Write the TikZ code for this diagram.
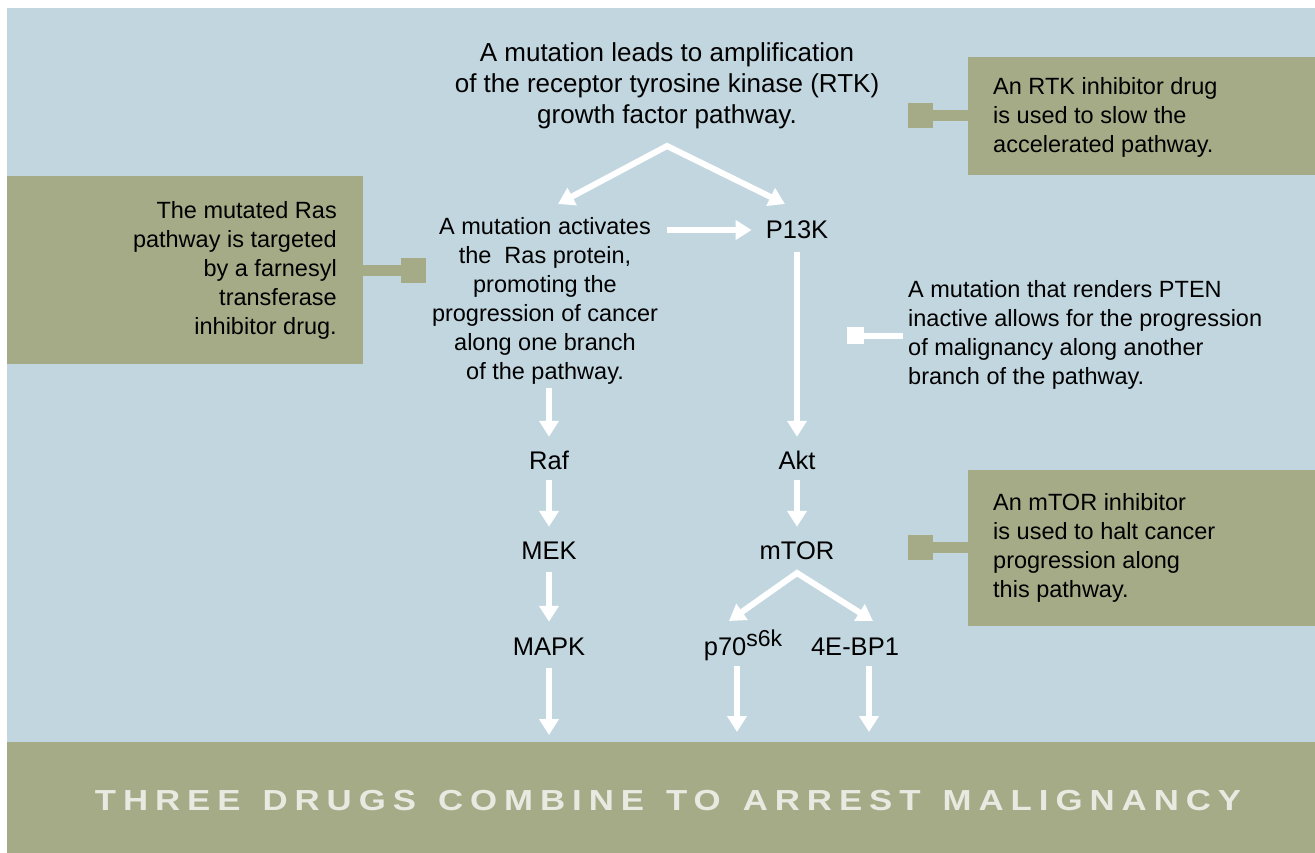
\documentclass[tikz,border=0pt]{standalone}
\usepackage{fontspec}
\setmainfont{Liberation Sans}
\newfontfamily\bannerfont{Liberation Sans}[FakeStretch=1.2,LetterSpace=24]
\usetikzlibrary{arrows.meta}
\definecolor{bgblue}{HTML}{C2D6DF}
\definecolor{olive}{HTML}{A6AB87}
\definecolor{bannertxt}{HTML}{E8E9E1}
\begin{document}
\begin{tikzpicture}[x=1pt,y=-1pt,
  txt/.style={inner sep=0pt, font=\fontsize{23.5}{29}\selectfont, text=black},
  lbl/.style={inner sep=0pt, font=\fontsize{25.5}{29}\selectfont, text=black, text height=18pt, text depth=5pt},
  arr/.style={draw=white, line width=6pt, -{Triangle[width=19pt,length=16pt]}},
  arrtwo/.style={draw=white, line width=6pt, line join=miter, {Triangle[width=19pt,length=16pt]}-{Triangle[width=19pt,length=16pt]}},
  link/.style={draw=olive, line width=11pt},
  plug/.style={fill=olive, minimum size=25pt, inner sep=0pt},
  drugbox/.style={fill=olive, inner sep=0pt, anchor=north west}]
\useasboundingbox (0,0) rectangle (1315,853);
\fill[white] (0,0) rectangle (1315,853);
\fill[bgblue] (7,8) rectangle (1315,853);
% banner
\node[fill=olive, minimum width=1308pt, minimum height=111pt, anchor=north west, inner sep=0pt] (banner) at (7,742) {};
\node[inner sep=0pt, text=bannertxt, font=\bannerfont\bfseries\fontsize{29}{30}\selectfont] (bannertext) at (668,801)
  {THREE\hspace{22pt}DRUGS\hspace{22pt}COMBINE\hspace{22pt}TO\hspace{22pt}ARREST\hspace{22pt}MALIGNANCY};
% drug boxes
\node[drugbox, minimum width=347pt, minimum height=118pt] (rtkbox) at (968,57) {};
\node[drugbox, minimum width=356pt, minimum height=188pt] (rasbox) at (7,176) {};
\node[drugbox, minimum width=347pt, minimum height=156pt] (mtorbox) at (968,470) {};
\node[plug] (rtkplug) at (920.5,115.5) {};
\node[plug] (rasplug) at (413.5,270.5) {};
\node[plug] (mtorplug) at (920.5,547.5) {};
\draw[link] (rtkplug.east) -- (rtkbox.west |- rtkplug);
\draw[link] (rasplug.west) -- (rasbox.east |- rasplug);
\draw[link] (mtorplug.east) -- (mtorbox.west |- mtorplug);
% texts
\node[txt, align=center, font=\fontsize{26}{31}\selectfont] (top) at (667,86)
  {A mutation leads to amplification\\of the receptor tyrosine kinase (RTK)\\growth factor pathway.};
\node[txt, align=center] (ras) at (545,301)
  {A mutation activates\\the\ \ Ras protein,\\promoting the\\progression of cancer\\along one branch\\of the pathway.};
\node[txt, align=left, anchor=west] (rtktext) at (993,117)
  {An RTK inhibitor drug\\is used to slow the\\accelerated pathway.};
\node[txt, align=right, anchor=east] (rastext) at (337,270.5)
  {The mutated Ras\\pathway is targeted\\by a farnesyl\\transferase\\inhibitor drug.};
\node[txt, align=left, anchor=west] (pten) at (908,335)
  {A mutation that renders PTEN\\inactive allows for the progression\\of malignancy along another\\branch of the pathway.};
\node[txt, align=left, anchor=west] (mtortext) at (993,548)
  {An mTOR inhibitor\\is used to halt cancer\\progression along\\this pathway.};
% PTEN plug
\node[fill=white, minimum size=17pt, inner sep=0pt] (ptenplug) at (855.5,335.5) {};
\draw[white, line width=6pt, shorten >=5pt] (ptenplug.east) -- (pten.west |- ptenplug);
% labels
\node[lbl] (p13k) at (797,232.5) {P13K};
\node[lbl] (raf) at (549,462.5) {Raf};
\node[lbl] (mek) at (549,552.5) {MEK};
\node[lbl] (mapk) at (549,648.5) {MAPK};
\node[lbl] (akt) at (797,462.5) {Akt};
\node[lbl] (mtor) at (797,552.5) {mTOR};
\node[lbl] (p70) at (743,648.5) {p70\raisebox{9pt}{\fontsize{23}{23}\selectfont s6k}};
\node[lbl] (ebp) at (855,648.5) {4E-BP1};
% arrows
\coordinate (apex1) at (667,146);
\coordinate (tipL) at (558,204);
\coordinate (tipR) at (785,204);
\draw[arrtwo] (tipL) -- (apex1) -- (tipR);
\draw[arr, shorten <=8.5pt, shorten >=14pt] (ras.east |- 0,230) -- (p13k.west |- 0,230);
\draw[arr, shorten <=3pt, shorten >=14pt] (raf |- ras.south) -- (raf.north);
\draw[arr, shorten <=6pt, shorten >=14pt] (raf.south) -- (mek.north);
\draw[arr, shorten <=8pt, shorten >=15pt] (mek.south) -- (mapk.north);
\draw[arr, shorten <=8pt, shorten >=7pt] (mapk.south) -- (mapk.south |- banner.north);
\draw[arr, shorten <=8pt, shorten >=14pt] (p13k.south) -- (akt.north);
\draw[arr, shorten <=6pt, shorten >=14pt] (akt.south) -- (mtor.north);
\coordinate (apex2) at (797,573);
\coordinate (tipL2) at (729,621);
\coordinate (tipR2) at (873,621);
\draw[arrtwo] (tipL2) -- (apex2) -- (tipR2);
\draw[arr, shorten <=6pt, shorten >=10pt] ([xshift=-6pt]p70.south) -- ([xshift=-6pt]p70.south |- banner.north);
\draw[arr, shorten <=6pt, shorten >=10pt] ([xshift=14pt]ebp.south) -- ([xshift=14pt]ebp.south |- banner.north);
\end{tikzpicture}
\end{document}
